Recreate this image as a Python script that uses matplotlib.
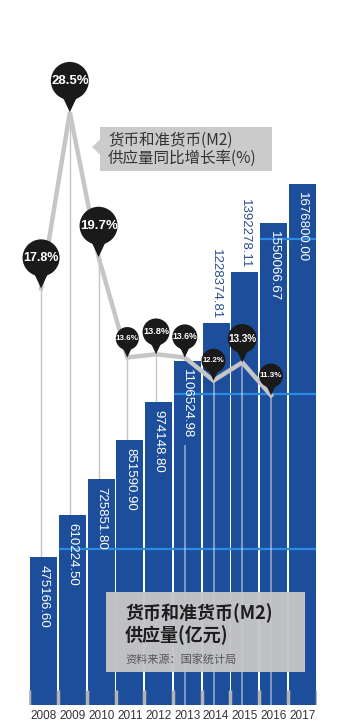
import numpy as np
import matplotlib
matplotlib.use("Agg")
import matplotlib.pyplot as plt
from matplotlib.path import Path
from matplotlib.patches import Rectangle, Polygon

plt.rcParams["font.family"] = ["Liberation Sans", "Noto Sans CJK SC", "DejaVu Sans"]

# data
years = [2008, 2009, 2010, 2011, 2012, 2013, 2014, 2015, 2016, 2017]
m2 = [475166.60, 610224.50, 725851.80, 851590.90, 974148.80,
      1106524.98, 1228374.81, 1392278.11, 1550066.67, 1676800.00]
growth = [17.8, 28.5, 19.7, 13.6, 13.8, 13.6, 12.2, 13.3, 11.3]
grid_vals = [500000, 1000000, 1500000]

# styles
pin_r = [18.5, 19, 19, 11.5, 13.5, 12.5, 12, 14.5, 12]      # px
pin_fs = [9, 9.5, 9.5, 5.8, 6.6, 6.2, 5.5, 7.2, 5.8]
outside = [6, 7]
BLUE = "#1d4e9b"
W, H = 352, 728
D = 1.65  # circle centre above tip, in radii


def rect(l, t, r, b):
    return [l / W, 1 - b / H, (r - l) / W, (b - t) / H]


# pin marker: tip at origin
circ = Path.circle((0, D), 1.0)
tri = Path([(0, 0), (0.42, 0.9), (-0.42, 0.9), (0, 0)],
           [Path.MOVETO, Path.LINETO, Path.LINETO, Path.CLOSEPOLY])
pin = Path.make_compound_path(circ, tri)

fig = plt.figure(figsize=(W / 100, H / 100), dpi=100)
ax = fig.add_axes(rect(29.3, 0, 316.7, 704.5))
x = np.arange(len(years))
ax.bar(x, m2, width=0.94, color=BLUE, zorder=2)
ax.set_xlim(-0.5, 9.5)
ax.set_ylim(0, 2.27e6)
for s in ax.spines.values():
    s.set_visible(False)
ax.set_yticks([])
ax.set_xticks(x, years)
ax.tick_params(axis="x", length=0, pad=4, labelsize=8.5, labelcolor="#333333")

# light blue gridlines only over bars
for g in grid_vals:
    first = next(i for i, v in enumerate(m2) if v > g)
    ax.hlines(g, first - 0.47, 9.47, color="#2a8be0", lw=1.6, zorder=3)

# grey ticks at the foot
ax.vlines(np.arange(11) - 0.5, 0, 0.02, transform=ax.get_xaxis_transform(),
          color="#b4b4b4", lw=2.5, zorder=3)

# value labels
for i, v in enumerate(m2):
    if i in outside:
        ax.annotate(f"{v:.2f}", (i, v), xytext=(0, 3), textcoords="offset points",
                    rotation=-90, ha="center", va="bottom", fontsize=9.5,
                    color="#2c4f90", zorder=4)
    else:
        ax.annotate(f"{v:.2f}", (i, v), xytext=(0, -5.5), textcoords="offset points",
                    rotation=-90, ha="center", va="top", fontsize=9.5,
                    color="white", zorder=4)

# growth line
ax2 = ax.twinx()
ax2.set_ylim(-7.48, 35.32)
ax2.axis("off")
gx = np.arange(len(growth)) - 0.09

# grey drop lines behind bars
ax.vlines(gx, -7.48, growth, transform=ax2.transData, color="#c4c4c4",
          lw=1, zorder=1)
# light drop lines over later bars
ax2.vlines(gx[5:], [8.3] + growth[6:], -7.48, color="white", alpha=0.55,
           lw=1.1, zorder=1)

ax2.plot(gx, growth, color="#c6c6c6", lw=3.2, zorder=2, solid_joinstyle="miter")
sizes = [(r * 0.72 * 2 * (D + 1)) ** 2 for r in pin_r]
ax2.scatter(gx, growth, s=sizes, marker=pin, color="#1a1a1a", linewidths=0,
            zorder=3, clip_on=False)
for xi, g, r, fs in zip(gx, growth, pin_r, pin_fs):
    ax2.annotate(f"{g}%", (xi, g), xytext=(0, D * r * 0.72), textcoords="offset points",
                 ha="center", va="center", color="white", fontweight="bold",
                 fontsize=fs, zorder=4, annotation_clip=False, clip_on=False)

# overlay in pixel coords for the captions
ov = fig.add_axes([0, 0, 1, 1])
ov.set_xlim(0, W)
ov.set_ylim(H, 0)
ov.axis("off")
ov.add_patch(Rectangle((100, 127), 172, 44, color="#cbcbcb", lw=0))
ov.add_patch(Polygon([(100.5, 139), (92, 147), (100.5, 155)], color="#cbcbcb", lw=0))
cjk = ["Noto Sans CJK SC", "DejaVu Sans"]
ov.text(108, 140, "货币和准货币(M2)", family=cjk, fontsize=11.2, color="#333333",
        va="center", ha="left")
ov.text(108, 158, "供应量同比增长率(%)", family=cjk, fontsize=11.2, color="#333333",
        va="center", ha="left")

ov.add_patch(Rectangle((106, 592), 199, 80, color="#c6c6c6", alpha=0.96, lw=0))
ov.text(125, 613, "货币和准货币(M2)", family=cjk, fontsize=13, fontweight="bold",
        color="#1e1e1e", va="center", ha="left")
ov.text(125, 635, "供应量(亿元)", family=cjk, fontsize=13, fontweight="bold",
        color="#1e1e1e", va="center", ha="left")
ov.text(125, 659, "资料来源：国家统计局", family=cjk, fontsize=8, color="#555555",
        va="center", ha="left")

fig.savefig("out.png", dpi=100)
